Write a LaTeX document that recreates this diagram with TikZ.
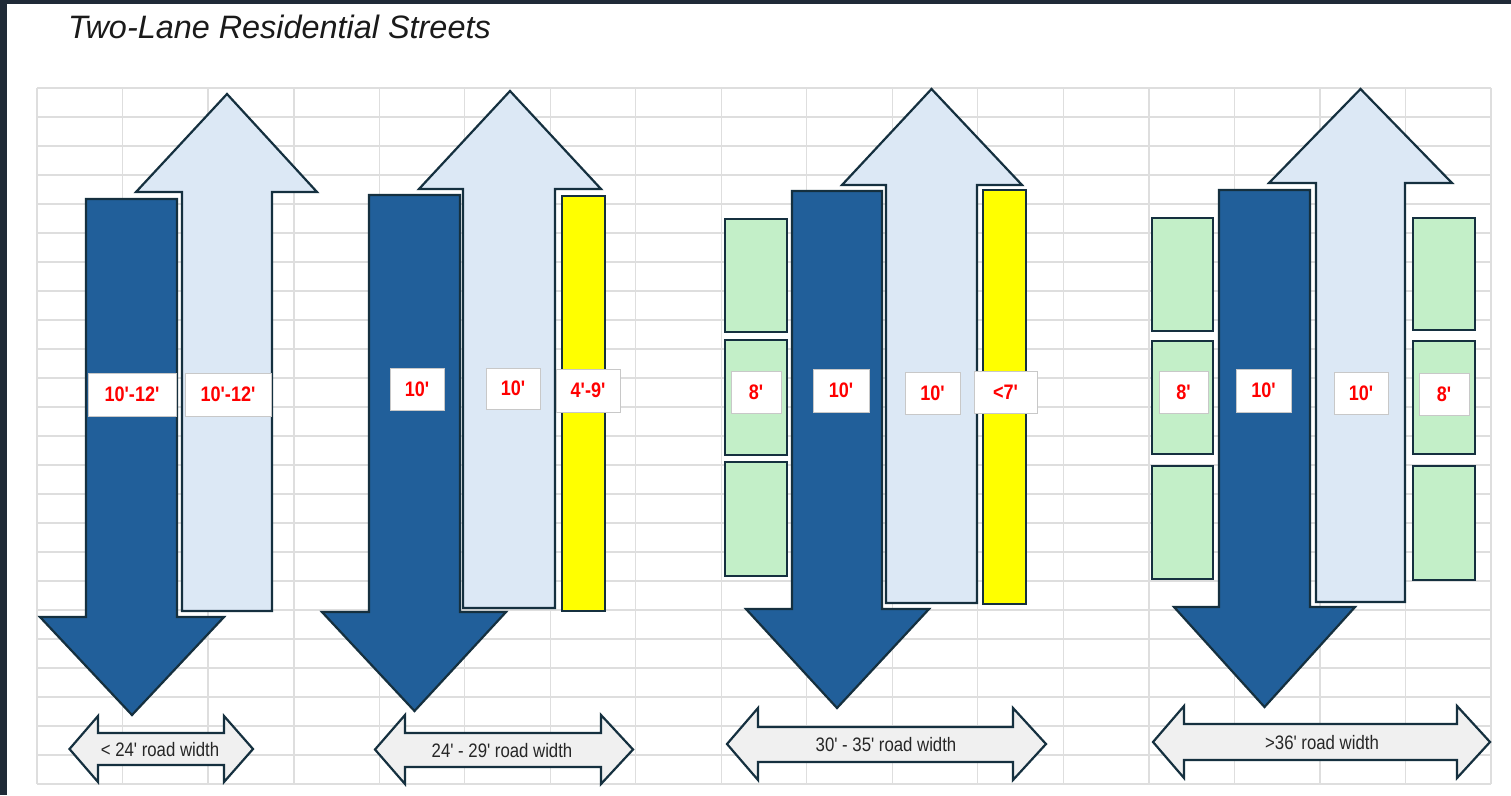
\documentclass[tikz,border=0pt]{standalone}
\usepackage{fontspec}
\setmainfont{Liberation Sans}
\newfontfamily\narrowfont[FakeStretch=0.86]{Liberation Sans}
\definecolor{darklane}{HTML}{215F9A}
\definecolor{lightlane}{HTML}{DCE8F5}
\definecolor{parkgreen}{HTML}{C3EFC8}
\definecolor{bikeyellow}{HTML}{FFFF00}
\definecolor{outlinec}{HTML}{15303F}
\definecolor{gridc}{HTML}{DEDEDE}
\definecolor{framec}{HTML}{1F2A37}
\definecolor{widthfill}{HTML}{F0F0F0}
\definecolor{labelborder}{HTML}{C8C8C8}
\definecolor{titlec}{HTML}{1A1A1A}
\tikzset{
  gridline/.style={draw=gridc, line width=1.2pt},
  gridthick/.style={draw=gridc, line width=2.4pt},
  lane/.style={draw=outlinec, line width=2.2pt, line join=miter},
  downlane/.style={lane, fill=darklane},
  uplane/.style={lane, fill=lightlane},
  bikelane/.style={lane, fill=bikeyellow},
  parking/.style={lane, fill=parkgreen},
  widtharrow/.style={draw=outlinec, line width=2.2pt, fill=widthfill, line join=miter},
  widthtext/.style={inner sep=0pt, text=black!85, font=\narrowfont\fontsize{19.5}{19.5}\selectfont},
  labelbox/.style={draw=labelborder, fill=white, line width=0.8pt, text=red, inner sep=0pt,
    font=\narrowfont\bfseries\fontsize{21}{21}\selectfont}
}
\begin{document}
\begin{tikzpicture}[x=1pt,y=-1pt]
\useasboundingbox (0,0) rectangle (1511,795);
\fill[white] (0,0) rectangle (1511,795);
\fill[framec] (0,0) rectangle (1511,4);
\fill[framec] (0,0) rectangle (7,795);
% title
\node[anchor=base west, inner sep=0pt, text=titlec, font=\itshape\fontsize{32.4}{38}\selectfont] (title) at (68,38) {Two-Lane Residential Streets};
% grid
\foreach \i in {0,...,17} \draw[gridline] ({37+85.53*\i},88) -- ({37+85.53*\i},784);
\foreach \j in {0,...,24} \draw[gridline] (37,{88+29*\j}) -- (1491,{88+29*\j});
\draw[gridthick] (37,175) -- (1491,175);
\draw[gridthick] (37,668) -- (1491,668);
\draw[gridthick] (37,697) -- (1491,697);
\draw[gridthick] (294,88) -- (294,784);
% ---------- group 1
\draw[uplane] (182,611) -- (182,192) -- (136,192) -- (227,94) -- (317,192) -- (272,192) -- (272,611) -- cycle;
\draw[downlane] (86,199) -- (177,199) -- (177,617) -- (224,617) -- (132,715) -- (40,617) -- (86,617) -- cycle;
% ---------- group 2
\draw[uplane] (463,608) -- (463,189) -- (419,189) -- (510,91) -- (601,189) -- (555,189) -- (555,608) -- cycle;
\draw[downlane] (369,195) -- (460,195) -- (460,612) -- (506,612) -- (414.5,711) -- (322,612) -- (369,612) -- cycle;
\draw[bikelane] (562,196) rectangle (605,611);
% ---------- group 3
\draw[parking] (725,219) rectangle (787,332);
\draw[parking] (725,340) rectangle (787,455);
\draw[parking] (725,462) rectangle (787,576);
\draw[uplane] (886,603) -- (886,185) -- (842,185) -- (931.5,89) -- (1022,185) -- (977,185) -- (977,603) -- cycle;
\draw[downlane] (792,191) -- (882,191) -- (882,609) -- (929,609) -- (837,708) -- (746,609) -- (792,609) -- cycle;
\draw[bikelane] (983,190) rectangle (1026,604);
% ---------- group 4
\draw[parking] (1152,218) rectangle (1213,331);
\draw[parking] (1152,341) rectangle (1213,454);
\draw[parking] (1152,466) rectangle (1213,579);
\draw[parking] (1413,218) rectangle (1475,330);
\draw[parking] (1413,341) rectangle (1475,454);
\draw[parking] (1413,466) rectangle (1475,580);
\draw[uplane] (1316,602) -- (1316,183) -- (1269,183) -- (1360.5,89) -- (1452,183) -- (1405,183) -- (1405,602) -- cycle;
\draw[downlane] (1219,190) -- (1310,190) -- (1310,607) -- (1355,607) -- (1264.5,707) -- (1174,607) -- (1219,607) -- cycle;
% ---------- lane labels
\node[labelbox, minimum width=88pt, minimum height=43pt] (l1a) at (132,394.5) {10'-12'};
\node[labelbox, minimum width=86pt, minimum height=43pt] (l1b) at (228,394.5) {10'-12'};
\node[labelbox, minimum width=54pt, minimum height=42pt] (l2a) at (417,389) {10'};
\node[labelbox, minimum width=54pt, minimum height=41pt] (l2b) at (513,388.5) {10'};
\node[labelbox, minimum width=64pt, minimum height=43pt] (l2c) at (588,390.5) {4'-9'};
\node[labelbox, minimum width=50pt, minimum height=42pt] (l3a) at (756,392) {8'};
\node[labelbox, minimum width=56pt, minimum height=43pt] (l3b) at (841,390.5) {10'};
\node[labelbox, minimum width=55pt, minimum height=42pt] (l3c) at (932.5,393) {10'};
\node[labelbox, minimum width=63pt, minimum height=42pt] (l3d) at (1005.5,392) {<7'};
\node[labelbox, minimum width=49pt, minimum height=42pt] (l4a) at (1183.5,392) {8'};
\node[labelbox, minimum width=55pt, minimum height=43pt] (l4b) at (1263.5,390.5) {10'};
\node[labelbox, minimum width=54pt, minimum height=42pt] (l4c) at (1361,393) {10'};
\node[labelbox, minimum width=50pt, minimum height=42pt] (l4d) at (1444,394) {8'};
% ---------- road width arrows
\draw[widtharrow] (69.5,749) -- (98,716) -- (98,733) -- (224,733) -- (224,716) -- (253,749) -- (224,782) -- (224,765) -- (98,765) -- (98,782) -- cycle;
\node[widthtext] (w1) at (160,750) {< 24' road width};
\draw[widtharrow] (375,749.5) -- (405,715) -- (405,733) -- (601,733) -- (601,715) -- (633,749.5) -- (601,784) -- (601,767) -- (405,767) -- (405,784) -- cycle;
\node[widthtext] (w2) at (502,751) {24' - 29' road width};
\draw[widtharrow] (727,744) -- (758,708) -- (758,727) -- (1013,727) -- (1013,708) -- (1046,744) -- (1013,780) -- (1013,762) -- (758,762) -- (758,780) -- cycle;
\node[widthtext] (w3) at (886,745) {30' - 35' road width};
\draw[widtharrow] (1153,742) -- (1184,706) -- (1184,724) -- (1457,724) -- (1457,706) -- (1490,742) -- (1457,778) -- (1457,760) -- (1184,760) -- (1184,778) -- cycle;
\node[widthtext] (w4) at (1322,743) {>36' road width};
\end{tikzpicture}
\end{document}
